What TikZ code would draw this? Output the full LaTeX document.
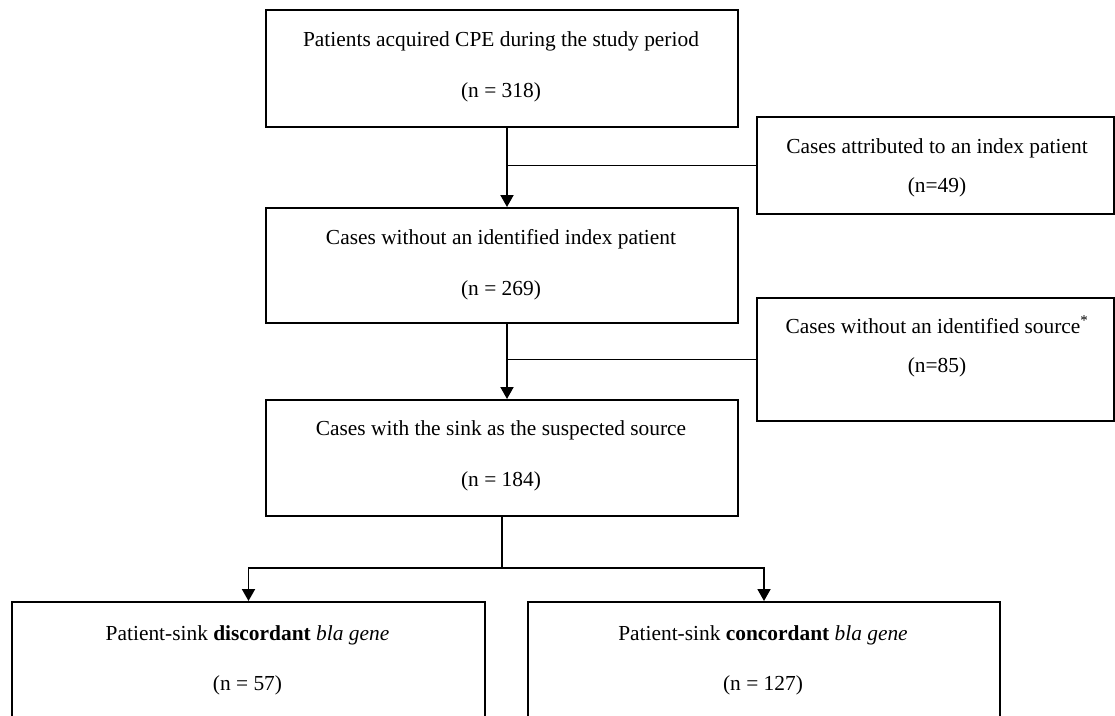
\documentclass[tikz,border=0pt]{standalone}
\usepackage{fontspec}
\setmainfont{Liberation Serif}
\usetikzlibrary{arrows.meta}
\begin{document}
\begin{tikzpicture}[x=1pt,y=-1pt,
  box/.style={draw=black, line width=2pt, inner sep=0pt, anchor=north west},
  txt/.style={anchor=base, inner sep=0pt, font=\fontsize{21.4}{26}\selectfont},
  ln/.style={draw=black, line width=1.9pt},
  arr/.style={draw=black, line width=1.9pt, -{Triangle[width=13pt,length=12pt]}}]
\useasboundingbox (0,0) rectangle (1115,715);
\clip (0,0) rectangle (1115,715);
% boxes
\node[box, minimum width=472pt, minimum height=117pt] (A) at (265,9) {};
\node[box, minimum width=472pt, minimum height=115pt] (B) at (265,207) {};
\node[box, minimum width=472pt, minimum height=116pt] (C) at (265,399) {};
\node[box, minimum width=357pt, minimum height=97pt] (S1) at (756,116) {};
\node[box, minimum width=357pt, minimum height=123pt] (S2) at (756,297) {};
\node[box, minimum width=473pt, minimum height=200pt] (L) at (11,601) {};
\node[box, minimum width=472pt, minimum height=200pt] (R) at (527,601) {};
% texts
\node[txt] (A1) at (501,46) {Patients acquired CPE during the study period};
\node[txt] (A2) at (501,97) {(n = 318)};
\node[txt] (B1) at (501,244) {Cases without an identified index patient};
\node[txt] (B2) at (501,295) {(n = 269)};
\node[txt] (C1) at (501,435) {Cases with the sink as the suspected source};
\node[txt] (C2) at (501,486) {(n = 184)};
\node[txt] (S1a) at (937,153) {Cases attributed to an index patient};
\node[txt] (S1b) at (937,192) {(n=49)};
\node[txt] (S2a) at (937,333) {Cases without an identified source\textsuperscript{*}};
\node[txt] (S2b) at (937,372) {(n=85)};
\node[txt] (L1) at (247.5,640) {Patient-sink \textbf{discordant} \textit{bla gene}};
\node[txt] (L2) at (247.5,690) {(n = 57)};
\node[txt] (R1) at (763,640) {Patient-sink \textbf{concordant} \textit{bla gene}};
\node[txt] (R2) at (763,690) {(n = 127)};
% connectors
\coordinate (a) at ([xshift=5pt]A.south);
\coordinate (b) at ([xshift=5pt]B.south);
\draw[arr] (a) -- ([xshift=5pt]B.north);
\draw[ln] (S1.west) -- (S1.west -| a);
\draw[arr] (b) -- ([xshift=5pt]C.north);
\draw[ln] (S2.west) -- (S2.west -| b);
\coordinate (j) at ([yshift=-51pt]C.south);
\draw[ln] (C.south) -- (j);
\draw[arr] (j) -| (L.north);
\draw[arr] (j) -| (R.north);
\end{tikzpicture}
\end{document}
